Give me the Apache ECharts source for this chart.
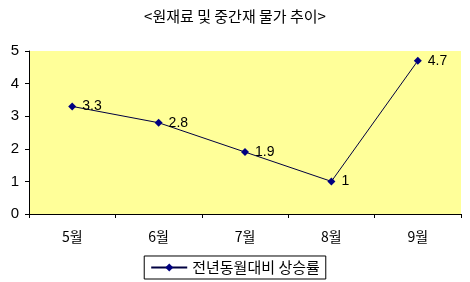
<!DOCTYPE html>
<html><head><meta charset="utf-8">
<script src="https://cdn.jsdelivr.net/npm/echarts@6/dist/echarts.min.js"></script>
<style>html,body{margin:0;padding:0;background:#fff}#c{width:470px;height:282px}</style>
</head><body><div id="c"></div>
<script>
const title = '<원재료 및 중간재 물가 추이>';
const categories = ['5월','6월','7월','8월','9월'];
const seriesName = '전년동월대비 상승률';
const values = [3.3, 2.8, 1.9, 1, 4.7];
const yTicks = [0,1,2,3,4,5];

const font = '"Noto Sans CJK KR", "Liberation Sans", sans-serif';
const chart = echarts.init(document.getElementById('c'));
chart.setOption({
  animation: false,
  backgroundColor: '#ffffff',
  title: { text: title, left: 'center', top: 4, textStyle: { fontSize: 15, fontWeight: 'normal', color: '#000', fontFamily: font } },
  grid: { left: 29, right: 9, top: 51, bottom: 68, show: true, backgroundColor: '#FFFF99', borderWidth: 0 },
  xAxis: {
    type: 'category', data: categories, boundaryGap: true,
    axisLine: { lineStyle: { color: '#000', width: 1 } },
    axisTick: { show: true, length: 4, inside: false, lineStyle: { color: '#000' } },
    axisLabel: { color: '#000', fontSize: 14, margin: 16, fontFamily: font }
  },
  yAxis: {
    type: 'value', min: yTicks[0], max: yTicks[yTicks.length-1], interval: 1,
    axisLine: { show: true, lineStyle: { color: '#000', width: 1 } },
    axisTick: { show: true, length: 4, lineStyle: { color: '#000' } },
    splitLine: { show: false },
    axisLabel: { color: '#000', fontSize: 15, margin: 10, fontFamily: '"Liberation Sans", sans-serif' }
  },
  legend: {
    bottom: 3, left: 'center', data: [seriesName],
    borderColor: '#000', borderWidth: 1, padding: [4, 6, 4, 6],
    itemWidth: 36, itemHeight: 10, itemGap: 6,
    textStyle: { fontSize: 15, color: '#000', fontFamily: font }
  },
  series: [{
    name: seriesName, type: 'line', data: values,
    symbol: 'diamond', symbolSize: 8,
    itemStyle: { color: '#000080' },
    lineStyle: { color: '#000040', width: 1 },
    label: { show: true, position: 'right', distance: 6, fontSize: 14, color: '#000', fontFamily: '"Liberation Sans", sans-serif' }
  }]
});
</script></body></html>
